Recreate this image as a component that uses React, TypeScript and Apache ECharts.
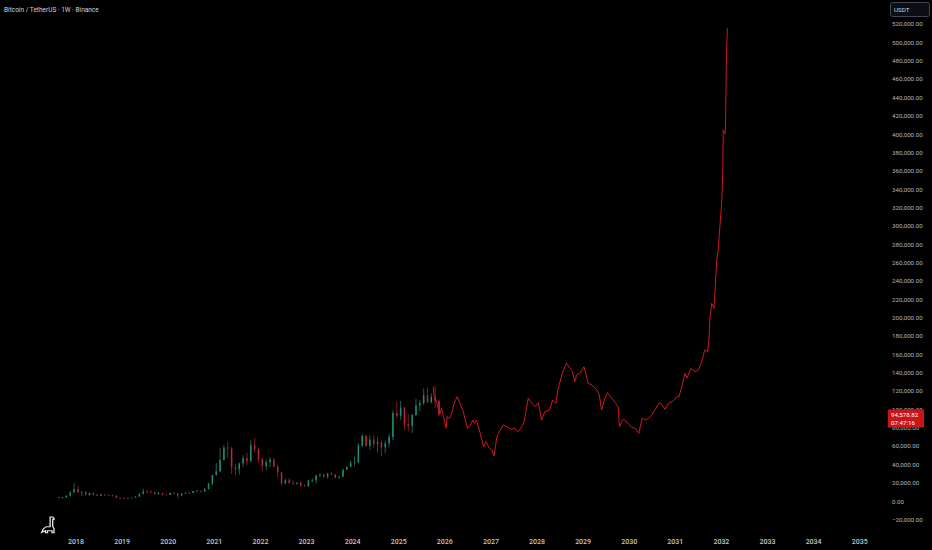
import React, { useEffect, useRef } from "react";
import * as echarts from "echarts";

// monthly candles, Binance BTC/USDT, from Aug 2017 to Nov 2025
const firstMonth = { year: 2017, month: 8 };
const opens = [
  4261, 4689, 4378, 6463, 9838,
  13716, 10285, 10326, 6923, 9246, 7494, 6391, 7730, 7011, 6626, 6371, 4041,
  3742, 3458, 3813, 4105, 5320, 8555, 10855, 10085, 9588, 8289, 9140, 7541,
  7195, 9352, 8599, 6410, 8624, 9446, 9138, 11335, 11649, 10776, 13791, 19695,
  28923, 33092, 45135, 58740, 57694, 37254, 35045, 41461, 47100, 43824, 61300, 56950,
  46216, 38466, 43160, 45510, 37630, 31801, 19942, 23293, 20050, 19423, 20491, 17164,
  16542, 23125, 23142, 28465, 29233, 27210, 30472, 29232, 25941, 26962, 34640, 37723,
  42283, 42582, 61130, 71280, 60672, 67491, 62772, 64628, 58974, 63327, 70215, 96407,
  93576, 102429, 84350, 82550, 94172, 104591, 107135, 115764, 108246, 114048, 109600,
];
const closes = [
  4689, 4378, 6463, 9838, 13716,
  10285, 10326, 6923, 9246, 7494, 6391, 7730, 7011, 6626, 6371, 4041, 3742,
  3458, 3813, 4105, 5320, 8555, 10855, 10085, 9588, 8289, 9140, 7541, 7195,
  9352, 8599, 6410, 8624, 9446, 9138, 11335, 11649, 10776, 13791, 19695, 28923,
  33092, 45135, 58740, 57694, 37254, 35045, 41461, 47100, 43824, 61300, 56950, 46216,
  38466, 43160, 45510, 37630, 31801, 19942, 23293, 20050, 19423, 20491, 17164, 16542,
  23125, 23142, 28465, 29233, 27210, 30472, 29232, 25941, 26962, 34640, 37723, 42283,
  42582, 61130, 71280, 60672, 67491, 62772, 64628, 58974, 63327, 70215, 96407, 93576,
  102429, 84350, 82550, 94172, 104591, 107135, 115764, 108246, 114048, 109600, 94578.82,
];
const lows = [
  3400, 2817, 4110, 5325, 9722,
  9035, 6000, 6600, 6430, 7032, 5750, 6070, 5880, 6100, 6205, 3652, 3156,
  3400, 3350, 3733, 4080, 5320, 7450, 9010, 9320, 7710, 7300, 6515, 6435,
  6871, 8450, 3782, 6150, 8117, 8833, 8893, 10518, 9825, 10374, 13195, 17572,
  28130, 32296, 45000, 47044, 30000, 28805, 29278, 37332, 39600, 43283, 53256, 42000,
  32917, 34322, 37155, 37578, 26700, 17622, 18782, 19520, 18125, 18190, 15476, 16256,
  16499, 21351, 19549, 26942, 25811, 24800, 28861, 25166, 24901, 26538, 34097, 37615,
  38555, 41884, 59005, 59191, 56552, 58402, 53485, 49000, 52550, 58946, 66835, 90500,
  89256, 78258, 76606, 74508, 93377, 98200, 105100, 107350, 107255, 102000, 93000,
];
const highs = [
  4745, 4939, 6470, 11300, 19798,
  17176, 11786, 11700, 9759, 10020, 7754, 8507, 7750, 7410, 7680, 6588, 4312,
  4070, 4200, 4140, 5600, 9074, 13970, 13200, 12325, 10905, 10370, 9513, 7750,
  9578, 10500, 9188, 9460, 10067, 10380, 11444, 12468, 12050, 14100, 19863, 29300,
  41950, 58352, 61844, 64854, 59500, 41330, 42448, 50500, 52920, 67000, 69000, 59053,
  47990, 45821, 48189, 47444, 39980, 31982, 24668, 25211, 22799, 21085, 21480, 18387,
  23960, 25250, 29184, 31000, 29820, 31431, 31804, 30244, 27488, 35280, 38450, 44700,
  48969, 64000, 73777, 72797, 71980, 71997, 70079, 65659, 66498, 73620, 99588, 108353,
  109588, 102500, 95000, 95758, 111980, 110530, 123218, 124474, 117900, 126199, 111000,
];

// projected path (red line), decimal year and price
const projYears = [
  2025.75, 2025.77, 2025.81, 2025.86, 2025.9, 2025.93, 2025.97, 2026.03, 2026.05, 2026.1,
  2026.15, 2026.2, 2026.27, 2026.33, 2026.4, 2026.49, 2026.55, 2026.61, 2026.64, 2026.69,
  2026.75, 2026.84, 2026.89, 2026.97, 2027.02, 2027.07, 2027.13, 2027.18, 2027.27, 2027.36,
  2027.45, 2027.52, 2027.59, 2027.67, 2027.72, 2027.81, 2027.89, 2027.96, 2028.03, 2028.1,
  2028.17, 2028.27, 2028.34, 2028.41, 2028.46, 2028.56, 2028.64, 2028.72, 2028.77, 2028.82,
  2028.86, 2028.93, 2029.02, 2029.11, 2029.19, 2029.3, 2029.35, 2029.4, 2029.46, 2029.53,
  2029.62, 2029.71, 2029.76, 2029.79, 2029.87, 2029.98, 2030.05, 2030.13, 2030.16, 2030.21,
  2030.28, 2030.38, 2030.49, 2030.58, 2030.65, 2030.71, 2030.78, 2030.85, 2030.94, 2031.03,
  2031.08, 2031.15, 2031.21, 2031.25, 2031.34, 2031.43, 2031.5, 2031.56, 2031.64, 2031.7,
  2031.73, 2031.75, 2031.79, 2031.84, 2031.9, 2031.93, 2032.01, 2032.03, 2032.04, 2032.08,
  2032.09, 2032.11, 2032.13,
];
const projValues = [
  125100, 114200, 110600, 101600, 96100, 101600, 92400, 79800, 92400, 90700,
  96100, 107000, 114200, 107000, 97900, 79800, 83400, 88800, 85200, 88800,
  77900, 59700, 65200, 58000, 56100, 49600, 70600, 76100, 83400, 80900,
  78700, 79800, 76100, 81500, 87000, 112500, 107000, 103300, 107700, 88800,
  97900, 99700, 110600, 107000, 123400, 141500, 150600, 145200, 141500, 130600,
  137900, 139700, 146900, 128800, 127000, 121500, 116100, 99700, 110600, 118600,
  112500, 107000, 103300, 81500, 89600, 85200, 80900, 79800, 77900, 74300,
  90700, 88800, 94300, 101600, 107700, 105200, 100500, 107000, 108800, 114200,
  114200, 127000, 139700, 134300, 145200, 141500, 143300, 150600, 165100, 163300,
  176000, 197800, 216000, 210600, 263000, 274000, 328600, 361000, 405000, 401000,
  408500, 488500, 515800,
];

const yearTicks = [2018, 2019, 2020, 2021, 2022, 2023, 2024, 2025, 2026, 2027, 2028, 2029, 2030, 2031, 2032, 2033, 2034, 2035];
const priceTicks = [
  -20000, 0, 20000, 40000, 60000, 80000, 100000, 120000, 140000, 160000, 180000, 200000, 220000, 240000,
  260000, 280000, 300000, 320000, 340000, 360000, 380000, 400000, 420000, 440000, 460000, 480000, 500000, 520000,
];
const lastPrice = 94578.82;
const countdown = "07:47:16";

const UP = "#1e8f77";
const DOWN = "#b8283a";
const PROJ = "#d1181f";

echarts.graphic.registerShape(
  "dino",
  echarts.graphic.extendPath(
    "M7 1 L9 1 L10 2 L10 3.2 L9 3.2 L9 10 L10 12 L10 16 L8.5 16 L8.5 14 L5 14 L5 16 L3.5 16 L3.5 14 L0.5 15.5 L2 12 L4 10.2 L7 10.2 Z",
    {}
  )
);

const fmtPrice = (v: number) => {
  const s = Math.abs(v).toLocaleString("en-US", { minimumFractionDigits: 2, maximumFractionDigits: 2 });
  return v < 0 ? "\u2212" + s : s;
};

export default function App() {
  const ref = useRef<HTMLDivElement>(null);

  useEffect(() => {
    if (!ref.current) return;
    document.body.style.margin = "0";
    const chart = echarts.init(ref.current, null, { renderer: "svg" });

    const candles = opens.map((o, i) => [
      firstMonth.year + (firstMonth.month - 1 + i + 0.5) / 12,
      o,
      closes[i],
      lows[i],
      highs[i],
    ]);

    chart.setOption({
      animation: false,
      backgroundColor: "#000000",
      grid: { left: 0, right: 46, top: 0, bottom: 22 },
      xAxis: {
        type: "value",
        min: 2016.351,
        max: 2035.571,
        axisLine: { show: false },
        axisTick: { show: false },
        splitLine: { show: false },
        axisLabel: {
          customValues: yearTicks,
          formatter: (v: number) => String(v),
          color: "#c2c5cc",
          fontSize: 7,
          fontWeight: 500,
          fontFamily: "Roboto",
          margin: 10,
        },
      },
      yAxis: {
        type: "value",
        position: "right",
        min: -28885,
        max: 546635,
        axisLine: { show: false },
        axisTick: { show: false },
        splitLine: { show: false },
        axisLabel: {
          customValues: priceTicks,
          formatter: fmtPrice,
          color: "#b2b5be",
          fontSize: 6.2,
          fontFamily: "Roboto",
          margin: 6,
          align: "left",
        },
      },
      series: [
        {
          type: "custom",
          data: candles,
          encode: { x: 0, y: [1, 2, 3, 4] },
          renderItem: (params: any, api: any) => {
            const xv = api.value(0);
            const o = api.value(1);
            const c = api.value(2);
            const pO = api.coord([xv, o]);
            const pC = api.coord([xv, c]);
            const pL = api.coord([xv, api.value(3)]);
            const pH = api.coord([xv, api.value(4)]);
            const color = c >= o ? UP : DOWN;
            const w = 1.5;
            return {
              type: "group",
              children: [
                {
                  type: "line",
                  shape: { x1: pH[0], y1: pH[1], x2: pL[0], y2: pL[1] },
                  style: { stroke: color, lineWidth: 0.7 },
                },
                {
                  type: "rect",
                  shape: {
                    x: pO[0] - w / 2,
                    y: Math.min(pO[1], pC[1]),
                    width: w,
                    height: Math.max(Math.abs(pO[1] - pC[1]), 0.7),
                  },
                  style: { fill: color },
                },
              ],
            };
          },
        },
        {
          type: "line",
          data: projYears.map((y, i) => [y, projValues[i]]),
          showSymbol: false,
          lineStyle: { color: PROJ, width: 1 },
          z: 3,
        },
      ],
      graphic: [
        {
          type: "text",
          x: 4,
          y: 10,
          z: 100,
          style: {
            text: "Bitcoin / TetherUS \u00b7 1W \u00b7 Binance",
            fill: "#d1d4dc",
            fontSize: 6.5,
            fontFamily: "Roboto",
            verticalAlign: "middle",
          },
        },
        {
          type: "rect",
          z: 100,
          shape: { x: 890.5, y: 2.5, width: 39, height: 14, r: 2 },
          style: { fill: "#0c0e14", stroke: "#434651", lineWidth: 1 },
        },
        {
          type: "text",
          x: 894,
          y: 9.5,
          z: 101,
          style: { text: "USDT", fill: "#d1d4dc", fontSize: 6.2, fontFamily: "Roboto", verticalAlign: "middle" },
        },
        {
          type: "rect",
          z: 100,
          shape: { x: 888, y: 409.5, width: 36, height: 18 },
          style: { fill: "#c8141a" },
        },
        {
          type: "text",
          x: 891,
          y: 414.5,
          z: 101,
          style: { text: fmtPrice(lastPrice), fill: "#ffffff", fontSize: 6.2, fontFamily: "Roboto", verticalAlign: "middle" },
        },
        {
          type: "text",
          x: 891,
          y: 422.5,
          z: 101,
          style: { text: countdown, fill: "#ffffff", fontSize: 6.2, fontFamily: "Roboto", verticalAlign: "middle" },
        },
        {
          type: "dino",
          x: 41,
          y: 516,
          z: 100,
          scaleX: 1.3,
          scaleY: 1.05,
          style: { fill: "none", stroke: "#e6e6e6", lineWidth: 1 },
        },
      ],
    });

    return () => chart.dispose();
  }, []);

  return (
    <div
      ref={ref}
      style={{ position: "fixed", left: 0, top: 0, width: 932, height: 550, background: "#000" }}
    />
  );
}
